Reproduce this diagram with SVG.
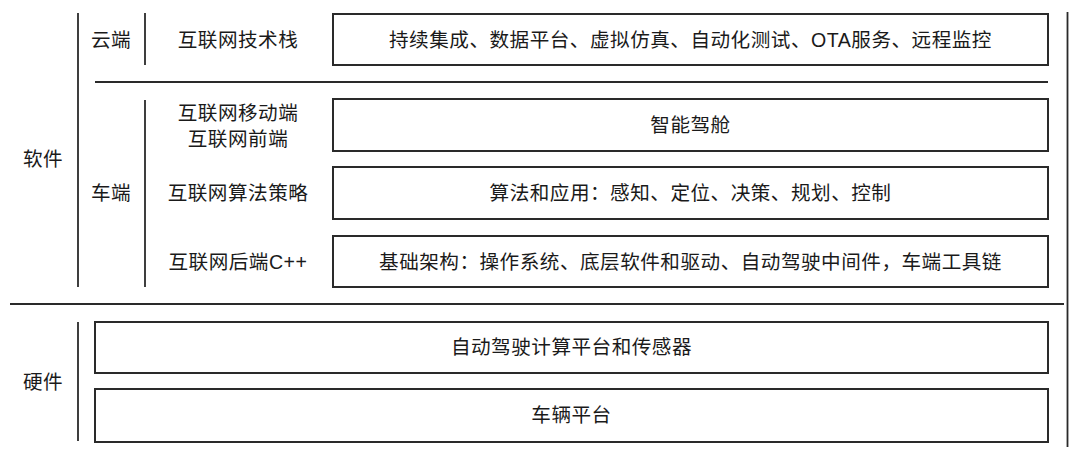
<svg xmlns="http://www.w3.org/2000/svg" width="1080" height="455" viewBox="0 0 1080 455">
<style>
text{font-family:"Liberation Sans","Noto Sans CJK SC",sans-serif;font-size:19.6px;letter-spacing:0.5px;fill:#1a1a1a;text-anchor:middle;dominant-baseline:central}
.box{fill:#fff;stroke:#2a2a2a;stroke-width:2}
.ln{stroke:#2a2a2a;stroke-width:1.8;fill:none}
</style>
<rect width="1080" height="455" fill="#fff"/>
<g id="connectors">
<line class="ln" x1="78" y1="13" x2="78" y2="287"/>
<line class="ln" x1="145" y1="13" x2="145" y2="65"/>
<line class="ln" x1="145" y1="100" x2="145" y2="287"/>
<line class="ln" x1="95" y1="82" x2="1048" y2="82"/>
<line class="ln" x1="10" y1="304" x2="1064" y2="304"/>
<line class="ln" x1="78" y1="322" x2="78" y2="441"/>
<line class="ln" x1="1067.5" y1="12" x2="1067.5" y2="447"/>
</g>
<g id="label-software"><text x="43" y="159">软件</text></g>
<g id="label-hardware"><text x="43" y="382">硬件</text></g>
<g id="label-cloud"><text x="111" y="40">云端</text></g>
<g id="label-vehicle"><text x="111" y="193">车端</text></g>
<g id="role-techstack"><text x="238" y="40">互联网技术栈</text></g>
<g id="role-mobile"><text x="238" y="113">互联网移动端</text><text x="238" y="139">互联网前端</text></g>
<g id="role-algo"><text x="238" y="193">互联网算法策略</text></g>
<g id="role-backend"><text x="238" y="262">互联网后端C++</text></g>
<g id="box-cloud"><rect class="box" x="333" y="14" width="715" height="51"/><text x="690.5" y="40">持续集成、数据平台、虚拟仿真、自动化测试、OTA服务、远程监控</text></g>
<g id="box-cockpit"><rect class="box" x="333" y="99" width="715" height="52"/><text x="690.5" y="125">智能驾舱</text></g>
<g id="box-algo"><rect class="box" x="333" y="167" width="715" height="52"/><text x="690.5" y="193">算法和应用：感知、定位、决策、规划、控制</text></g>
<g id="box-infra"><rect class="box" x="333" y="236" width="715" height="51"/><text x="690.5" y="262">基础架构：操作系统、底层软件和驱动、自动驾驶中间件，车端工具链</text></g>
<g id="box-compute"><rect class="box" x="95" y="322" width="953" height="51"/><text x="571.5" y="347">自动驾驶计算平台和传感器</text></g>
<g id="box-vehicle"><rect class="box" x="95" y="389" width="953" height="53"/><text x="571.5" y="415">车辆平台</text></g>
</svg>
